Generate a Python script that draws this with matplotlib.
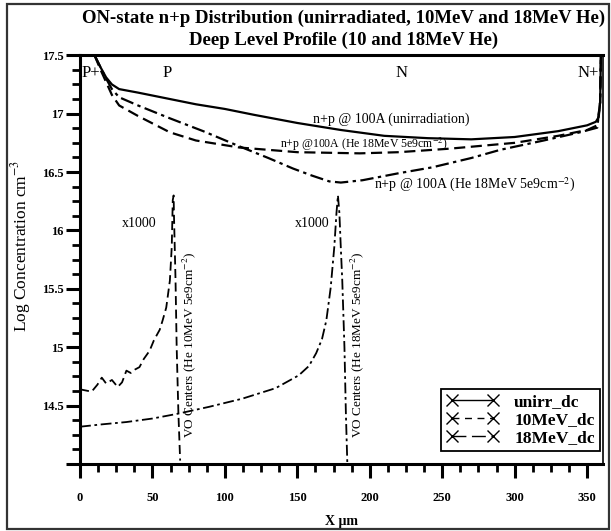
import matplotlib
matplotlib.use("Agg")
import matplotlib.pyplot as plt
from matplotlib.lines import Line2D
from matplotlib.patches import Rectangle
from matplotlib.ticker import MultipleLocator, FuncFormatter

# ON-state n+p distribution curves (log concentration vs depth)
x_unirr = [10, 14, 18, 22, 27, 40, 60, 80, 100, 120, 150, 180, 210, 240, 270, 300, 330, 350, 356, 358, 359, 359.5]
y_unirr = [17.5, 17.40, 17.31, 17.25, 17.21, 17.18, 17.13, 17.08, 17.04, 16.99, 16.92, 16.86, 16.81, 16.79, 16.78,
           16.80, 16.85, 16.90, 16.93, 16.97, 17.1, 17.5]

x_10mev = [10, 14, 18, 22, 27, 40, 62, 80, 110, 150, 193, 220, 255, 300, 330, 350, 357, 359, 359.5]
y_10mev = [17.5, 17.38, 17.27, 17.16, 17.07, 16.98, 16.84, 16.77, 16.71, 16.67, 16.66, 16.67, 16.70, 16.75,
           16.81, 16.86, 16.90, 17.1, 17.5]

x_18mev = [10, 14, 18, 22, 27, 40, 62, 85, 110, 130, 147, 160, 172, 180, 195, 220, 243, 270, 290, 320, 345,
           357, 359, 359.5]
y_18mev = [17.5, 17.40, 17.30, 17.21, 17.14, 17.07, 16.96, 16.85, 16.72, 16.62, 16.53, 16.47, 16.42, 16.41,
           16.43, 16.49, 16.54, 16.62, 16.69, 16.77, 16.84, 16.88, 17.1, 17.5]

# deep level profiles (x1000)
x_dl10 = [0, 4, 8, 12, 15, 18, 22, 26, 29, 32, 35, 38, 41, 44, 48, 51, 55, 57, 59.5, 62, 63.3, 64, 64.6,
          64.8, 65.9, 66.7, 67.9, 69.1]
y_dl10 = [14.64, 14.63, 14.62, 14.68, 14.74, 14.69, 14.72, 14.66, 14.70, 14.80, 14.78, 14.81, 14.83, 14.90,
          14.97, 15.06, 15.15, 15.23, 15.34, 15.57, 15.86, 16.26, 16.30, 16.15, 15.58, 15.0, 14.43, 14.03]

x_dl18 = [0, 15, 32, 50, 67, 89, 112, 135, 151, 158, 163, 167, 170, 173, 175.5, 177, 178, 179, 180, 181,
          182.5, 183.5, 184.5]
y_dl18 = [14.32, 14.34, 14.36, 14.39, 14.43, 14.49, 14.56, 14.65, 14.76, 14.84, 14.95, 15.07, 15.23, 15.51,
          15.86, 16.15, 16.30, 16.15, 15.85, 15.57, 15.0, 14.43, 14.0]

legend_labels = ['unirr_dc', '10MeV_dc', '18MeV_dc']

plt.rcParams['font.family'] = ['Liberation Serif', 'DejaVu Serif']
plt.rcParams['mathtext.fontset'] = 'stix'

fig = plt.figure(figsize=(6.11, 5.31), dpi=100)
ax = fig.add_axes([0.131, 0.126, 0.856, 0.770])

dashed = (0, (5, 2.5))
dashdot = (0, (6, 2, 1.5, 2))

ax.plot(x_unirr, y_unirr, color='black', lw=1.6, ls='-')
ax.plot(x_10mev, y_10mev, color='black', lw=1.6, ls=dashed)
ax.plot(x_18mev, y_18mev, color='black', lw=1.6, ls=dashdot)
ax.plot(x_dl10, y_dl10, color='black', lw=1.3, ls=dashed)
ax.plot(x_dl18, y_dl18, color='black', lw=1.3, ls=dashdot)

ax.set_xlim(0, 361)
ax.set_ylim(14.0, 17.5)

# axes styling
ax.xaxis.set_major_locator(MultipleLocator(50))
ax.xaxis.set_minor_locator(MultipleLocator(12.5))
ax.yaxis.set_major_locator(MultipleLocator(0.5))
ax.yaxis.set_minor_locator(MultipleLocator(0.125))
ax.yaxis.set_major_formatter(FuncFormatter(lambda v, _: '' if abs(v - 14) < 1e-6 else f'{v:g}'))
ax.tick_params(which='major', direction='out', length=10, width=2.2, labelsize=9, pad=2)
ax.tick_params(which='minor', direction='out', length=5.5, width=2.0)
ax.tick_params(axis='x', which='major', pad=10)
ax.tick_params(top=False, right=False, which='both')
for lab in ax.get_xticklabels() + ax.get_yticklabels():
    lab.set_fontweight('bold')
ax.spines['left'].set_linewidth(2.2)
ax.spines['bottom'].set_linewidth(2.2)
ax.spines['top'].set_linewidth(2.2)
ax.spines['right'].set_linewidth(1.2)

ax.set_xlabel('X \u03bcm', fontsize=10, fontweight='bold', labelpad=8)
ax.set_ylabel('Log Concentration cm$^{-3}$', fontsize=12.5)
ax.yaxis.set_label_coords(-0.09, 0.533)

# region labels and annotations
ax.text(0.8, 17.35, 'P+', fontsize=12, ha='left', va='center')
ax.text(60, 17.35, 'P', fontsize=12, ha='center', va='center')
ax.text(222, 17.35, 'N', fontsize=12, ha='center', va='center')
ax.text(351, 17.35, 'N+', fontsize=12, ha='center', va='center')
ax.text(215, 16.95, 'n+p @ 100A (unirradiation)', fontsize=10, ha='center', va='center')
ax.text(196, 16.74, 'n+p @100A (He 18MeV 5e9cm$^{-2}$)', fontsize=8.5, ha='center', va='center')
ax.text(272, 16.39, 'n+p @ 100A (He 18MeV 5e9cm$^{-2}$)', fontsize=10, ha='center', va='center')
ax.text(41, 16.06, 'x1000', fontsize=10, ha='center', va='center')
ax.text(160, 16.06, 'x1000', fontsize=10, ha='center', va='center')
ax.text(75.5, 14.22, 'VO Centers (He 10MeV 5e9cm$^{-2}$)', fontsize=9.5, rotation=90, ha='center', va='bottom')
ax.text(191, 14.22, 'VO Centers (He 18MeV 5e9cm$^{-2}$)', fontsize=9.5, rotation=90, ha='center', va='bottom')

handles = [Line2D([], [], color='black', lw=1.0, ls='-', marker='x', ms=8, mew=1),
           Line2D([], [], color='black', lw=1.0, ls=(0, (5, 4)), marker='x', ms=8, mew=1),
           Line2D([], [], color='black', lw=1.0, ls=(0, (10, 4)), marker='x', ms=8, mew=1)]
leg = ax.legend(handles, legend_labels, loc='lower right', bbox_to_anchor=(0.994, 0.032), numpoints=2,
                prop={'weight': 'bold', 'size': 12.5}, handlelength=3.0, labelspacing=0.1,
                fancybox=False, framealpha=1, edgecolor='black', borderpad=0.3, handletextpad=0.9,
                borderaxespad=0)
leg.get_frame().set_linewidth(1.3)

fig.text(0.562, 0.965, 'ON-state n+p Distribution (unirradiated, 10MeV and 18MeV He)',
         fontsize=13.5, fontweight='bold', ha='center', va='center')
fig.text(0.562, 0.924, 'Deep Level Profile (10 and 18MeV He)',
         fontsize=13.5, fontweight='bold', ha='center', va='center')

fig.add_artist(Rectangle((0.011, 0.004), 0.986, 0.988, transform=fig.transFigure,
                         fill=False, edgecolor='#333333', lw=1.6))

fig.savefig('out.png', dpi=100)
